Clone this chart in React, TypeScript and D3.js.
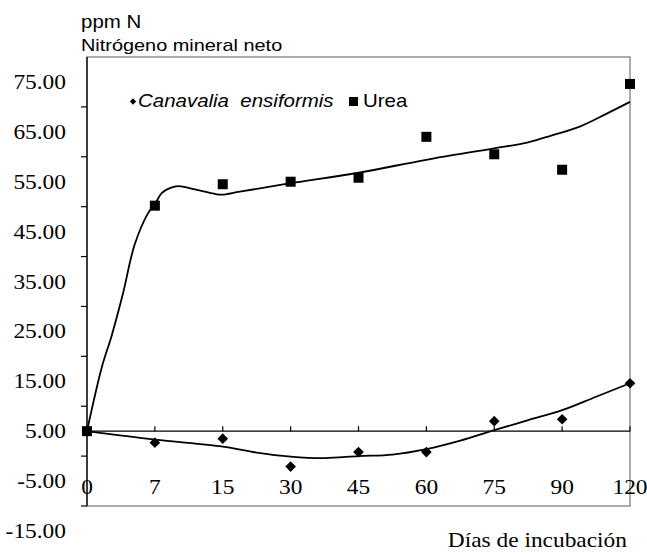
import * as d3 from "d3";

const width = 647;
const height = 554;

// days of incubation (category axis)
const days = ["0", "7", "15", "30", "45", "60", "75", "90", "120"];

// measured points
const urea = [5.0, 50.2, 54.5, 55.0, 55.8, 64.0, 60.5, 57.4, 74.6];
const canavalia = [5.0, 2.7, 3.5, -2.1, 0.8, 0.8, 7.0, 7.4, 14.6];

// fitted curves (position in category units)
const ureaFitPos = [0, 0.22, 0.36, 0.53, 0.7, 0.9, 1.0, 1.1, 1.22, 1.35, 1.57, 1.9, 2.0, 2.25, 3, 4, 5, 6, 6.5, 6.85, 7.25, 7.65, 8];
const ureaFit = [5.0, 17.9, 24.0, 32.6, 42.3, 48.7, 50.5, 52.7, 53.7, 54.1, 53.5, 52.5, 52.4, 53.0, 54.7, 56.8, 59.4, 61.7, 62.9, 64.3, 66.0, 68.6, 71.0];
const canFitPos = [0, 1, 2, 2.5, 3, 3.5, 4, 4.5, 5, 5.5, 6, 6.5, 7, 7.5, 8];
const canFit = [5.0, 3.3, 1.9, 0.7, -0.1, -0.4, 0.0, 0.3, 1.4, 3.1, 5.2, 7.2, 9.2, 11.9, 14.6];

// axis
const yTicks = [70, 60, 50, 40, 30, 20, 10, 0, -10];
const yLabels = [75, 65, 55, 45, 35, 25, 15, 5, -5, -15];
const xAxisAt = 5;

const serif = "'Liberation Serif', 'Times New Roman', serif";
const sans = "'Liberation Sans', Arial, sans-serif";
const sx = 1.17; // the original is stretched horizontally

const App = () => {
  const x = d3.scaleLinear().domain([0, days.length - 1]).range([87, 630]);
  const y = d3.scaleLinear().domain([-10, 80]).range([506, 57]);

  const line = d3
    .line<[number, number]>()
    .x((d) => x(d[0]))
    .y((d) => y(d[1]))
    .curve(d3.curveCatmullRom.alpha(0.5));

  const ureaPath = line(ureaFitPos.map((p, i) => [p, ureaFit[i]]));
  const canPath = line(canFitPos.map((p, i) => [p, canFit[i]]));

  const diamond = d3.symbol(d3.symbolDiamond2, 72)();

  return (
    <svg
      width={width}
      height={height}
      style={{ position: "absolute", left: 0, top: 0, background: "#fff" }}
    >
      {/* plot frame */}
      <rect x={x(0)} y={y(80)} width={x(8) - x(0)} height={y(-10) - y(80)} fill="none" stroke="#808080" strokeWidth={1.3} />

      {/* y axis */}
      <line x1={x(0)} x2={x(0)} y1={y(80)} y2={y(-10)} stroke="#000" strokeWidth={1.3} />
      {yTicks.map((t) => (
        <line key={t} x1={x(0) - 6} x2={x(0)} y1={y(t)} y2={y(t)} stroke="#000" strokeWidth={1.2} />
      ))}
      {yLabels.map((t) => (
        <text
          key={t}
          transform={`translate(66,${y(t) + 7}) scale(${sx},1)`}
          textAnchor="end"
          fontFamily={serif}
          fontSize={20}
        >
          {t.toFixed(2)}
        </text>
      ))}

      {/* x axis */}
      <line x1={x(0)} x2={x(8)} y1={y(xAxisAt)} y2={y(xAxisAt)} stroke="#000" strokeWidth={1.3} />
      {days.map((d, i) => (
        <line key={d} x1={x(i)} x2={x(i)} y1={y(xAxisAt) - 5} y2={y(xAxisAt)} stroke="#000" strokeWidth={1.2} />
      ))}
      {days.map((d, i) => (
        <text
          key={d}
          transform={`translate(${x(i)},494) scale(${sx},1)`}
          textAnchor="middle"
          fontFamily={serif}
          fontSize={20}
        >
          {d}
        </text>
      ))}

      {/* fitted curves */}
      <path d={ureaPath ?? ""} fill="none" stroke="#000" strokeWidth={1.8} />
      <path d={canPath ?? ""} fill="none" stroke="#000" strokeWidth={1.8} />

      {/* points */}
      {urea.map((v, i) => (
        <rect key={i} x={x(i) - 5} y={y(v) - 5} width={10} height={10} fill="#000" />
      ))}
      {canavalia.map((v, i) => (
        <path key={i} d={diamond ?? ""} transform={`translate(${x(i)},${y(v)})`} fill="#000" />
      ))}

      {/* legend */}
      <path d={d3.symbol(d3.symbolDiamond2, 26)() ?? ""} transform="translate(133,101.5)" fill="#000" />
      <text
        transform={`translate(138,107) scale(${sx},1)`}
        fontFamily={sans}
        fontStyle="italic"
        fontSize={17.5}
        style={{ whiteSpace: "pre" }}
      >
        {"Canavalia  ensiformis"}
      </text>
      <rect x={349} y={97} width={9} height={9} fill="#000" />
      <text transform={`translate(363,107) scale(${sx},1)`} fontFamily={sans} fontSize={17.5}>
        Urea
      </text>

      {/* titles */}
      <text transform={`translate(81,28) scale(${sx},1)`} fontFamily={sans} fontSize={17.5}>
        ppm N
      </text>
      <text transform={`translate(81,51) scale(${sx},1)`} fontFamily={sans} fontSize={17}>
        Nitrógeno mineral neto
      </text>
      <text
        transform={`translate(627,547) scale(${sx},1)`}
        textAnchor="end"
        fontFamily={serif}
        fontSize={20}
      >
        Días de incubación
      </text>
    </svg>
  );
};

export default App;
